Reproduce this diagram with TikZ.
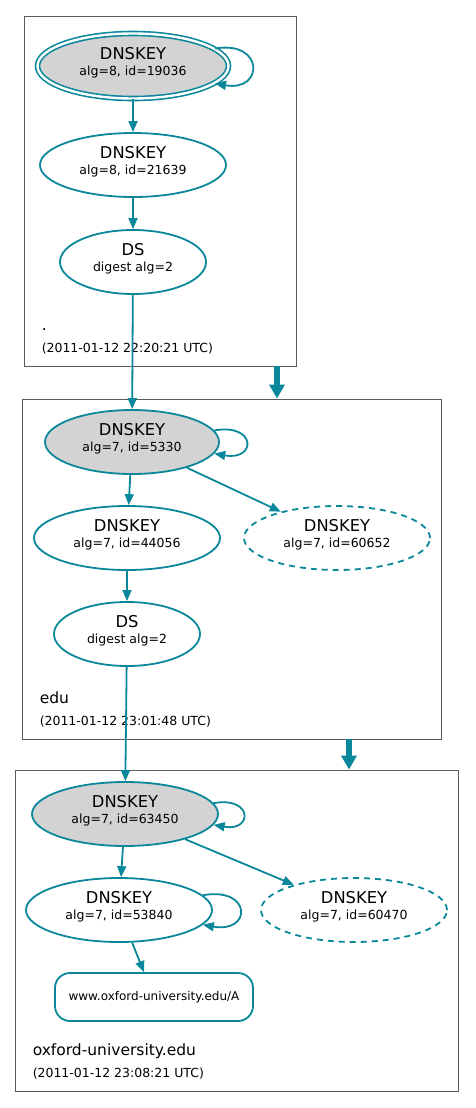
\documentclass[tikz,border=0pt]{standalone}
\usepackage{fontspec}
\setmainfont{DejaVu Sans}
\usetikzlibrary{shapes.geometric,arrows.meta}

\newcommand{\titlefont}{\fontsize{16.3}{16.5}\selectfont}
\newcommand{\subfont}{\fontsize{12.5}{16.5}\selectfont}
\newcommand{\keytext}[2]{#1\\{\subfont #2}\rule[-9pt]{0pt}{9pt}}

\begin{document}
\begin{tikzpicture}[x=1pt, y=1pt,
  dnskey/.style={ellipse, draw=dnsteal, line width=1.8pt, inner sep=0pt,
    minimum width=186pt, minimum height=64pt, align=center, font=\titlefont},
  ksk/.style={dnskey, fill=kskfill},
  trusted/.style={ksk, double=white, double distance=2.4pt, line width=1.6pt},
  unsigned/.style={dnskey, dash pattern=on 6pt off 5pt},
  dsnode/.style={dnskey, minimum width=146pt},
  rrset/.style={rectangle, rounded corners=15pt, draw=dnsteal, line width=1.8pt,
    minimum width=198pt, minimum height=48pt, font=\fontsize{12}{14}\selectfont},
  zone/.style={rectangle, draw=zoneframe, line width=0.9pt, inner sep=0pt},
  zonename/.style={font=\fontsize{15.5}{17}\selectfont, inner sep=0pt},
  stamp/.style={font=\fontsize{12.5}{14}\selectfont, inner sep=0pt},
  link/.style={draw=dnsteal, line width=1.8pt, -{Triangle[length=11pt,width=9pt]}},
  delegation/.style={draw=dnsteal, line width=6pt, -{Triangle[length=14pt,width=15pt]}}
]

\definecolor{dnsteal}{RGB}{10,135,154}
\definecolor{kskfill}{RGB}{211,211,211}
\definecolor{zoneframe}{RGB}{90,90,90}

\useasboundingbox (0,0) rectangle (475,-1108);

% ---------------- helper: zone footer ----------------
\newcommand{\zonefooter}[3]{%
  \node[zonename, anchor=base west] (#1-name) at ([shift={(18,36)}]#1.south west) {#2};
  \node[stamp, anchor=base west] (#1-time) at ([shift={(18,14)}]#1.south west) {#3};
}

% =========== zone boxes ===========
\node[zone, minimum width=272pt, minimum height=350pt] (zroot) at (160,-191) {};
\node[zone, minimum width=419pt, minimum height=340pt] (zedu) at (231.5,-569) {};
\node[zone, minimum width=443pt, minimum height=321pt] (zoxf) at (236.5,-930.5) {};

\zonefooter{zroot}{.}{(2011-01-12 22:20:21 UTC)}
\zonefooter{zedu}{edu}{(2011-01-12 23:01:48 UTC)}
\zonefooter{zoxf}{oxford-university.edu}{(2011-01-12 23:08:21 UTC)}

% =========== root ===========
\node[trusted, minimum width=191pt, minimum height=65pt] (ksk1) at (133,-66)
  {\keytext{DNSKEY}{alg=8, id=19036}};
\node[dnskey] (zsk1) at (133,-165) {\keytext{DNSKEY}{alg=8, id=21639}};
\node[dsnode] (ds1) at (133,-262) {\keytext{DS}{digest alg=2}};

% =========== edu ===========
\node[ksk, minimum width=174pt] (ksk2) at (132,-442) {\keytext{DNSKEY}{alg=7, id=5330}};
\node[dnskey] (zsk2) at (127,-538) {\keytext{DNSKEY}{alg=7, id=44056}};
\node[unsigned] (pub2) at (337,-538) {\keytext{DNSKEY}{alg=7, id=60652}};
\node[dsnode] (ds2) at (127,-634) {\keytext{DS}{digest alg=2}};

% =========== oxford-university.edu ===========
\node[ksk] (ksk3) at (125,-814) {\keytext{DNSKEY}{alg=7, id=63450}};
\node[dnskey] (zsk3) at (119,-910) {\keytext{DNSKEY}{alg=7, id=53840}};
\node[unsigned] (pub3) at (354,-910) {\keytext{DNSKEY}{alg=7, id=60470}};
\node[rrset] (rrA) at (154,-997) {www.oxford-university.edu/A};

% self-signatures
\draw[link] (ksk1.12) .. controls +(10:50) and +(-10:50) .. (ksk1.-12);
\draw[link] (ksk2.8) .. controls +(10:43) and +(-10:43) .. (ksk2.-8);
\draw[link] (ksk3.7) .. controls +(10:40) and +(-10:40) .. (ksk3.-7);
\draw[link] (zsk3.10) .. controls +(10:50) and +(-10:50) .. (zsk3.-10);

% signatures and digests
\draw[link] (ksk1) -- (zsk1);
\draw[link] (zsk1) -- (ds1);
\draw[link] (ds1) -- (ksk2);
\draw[link] (ksk2) -- (zsk2);
\draw[link] (ksk2) -- (pub2);
\draw[link] (zsk2) -- (ds2);
\draw[link] (ds2) -- (ksk3);
\draw[link] (ksk3) -- (zsk3);
\draw[link] (ksk3) -- (pub3);
\draw[link] (zsk3) -- (rrA);

% delegations
\coordinate (cut1) at (277,0);
\coordinate (cut2) at (349,0);
\draw[delegation] (zroot.south -| cut1) -- (zedu.north -| cut1);
\draw[delegation] (zedu.south -| cut2) -- (zoxf.north -| cut2);

\end{tikzpicture}
\end{document}
